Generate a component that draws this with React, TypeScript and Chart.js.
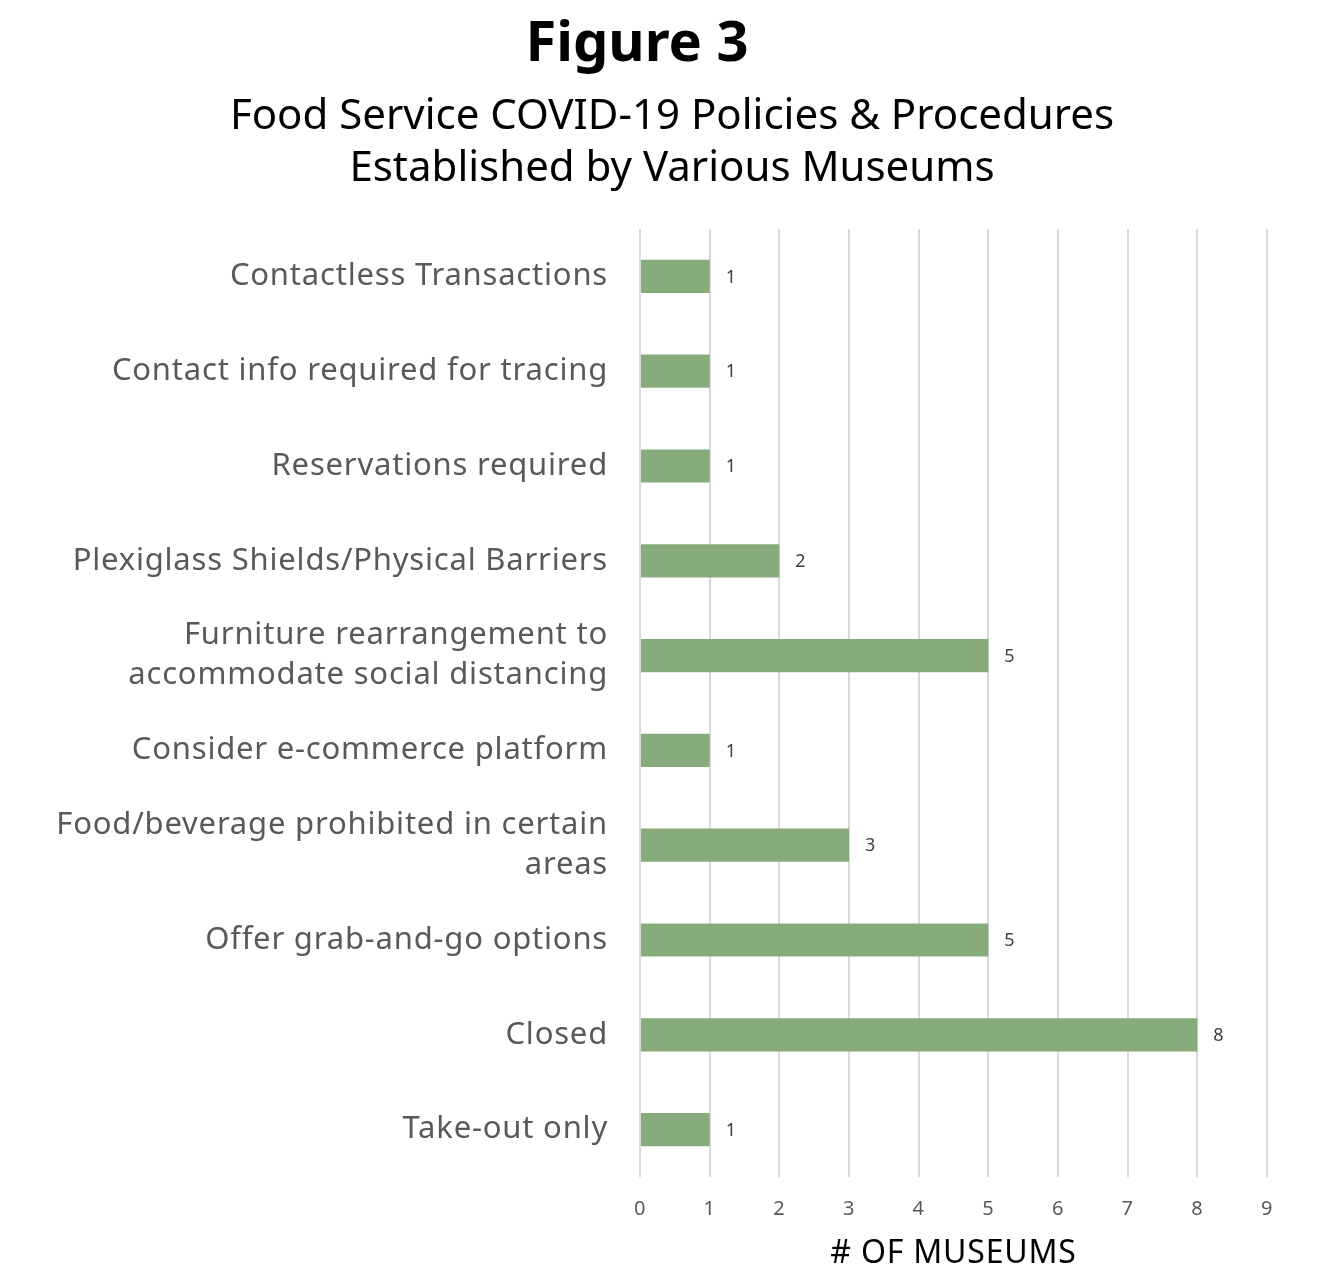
import React, { useEffect, useRef } from "react";
import { Chart, registerables } from "chart.js";

Chart.register(...registerables);

const categories: (string | string[])[] = [
  "Contactless Transactions",
  "Contact info required for tracing",
  "Reservations required",
  "Plexiglass Shields/Physical Barriers",
  ["Furniture rearrangement to", "accommodate social distancing"],
  "Consider e-commerce platform",
  ["Food/beverage prohibited in certain", "areas"],
  "Offer grab-and-go options",
  "Closed",
  "Take-out only",
];
const museums: number[] = [1, 1, 1, 2, 5, 1, 3, 5, 8, 1];
const xTicks: number[] = [0, 1, 2, 3, 4, 5, 6, 7, 8, 9];

const titleText = "Figure 3";
const subtitleLines: string[] = ["Food Service COVID-19 Policies & Procedures", "Established by Various Museums"];
const xTitle = "# OF MUSEUMS";

const spacing = {
  id: "spacing",
  beforeDraw(chart: any) {
    (chart.ctx as any).letterSpacing = "0.8px";
  },
  afterDraw(chart: any) {
    (chart.ctx as any).letterSpacing = "0px";
  },
};

const headings = {
  id: "headings",
  afterDraw(chart: any) {
    const ctx = chart.ctx;
    ctx.save();
    (ctx as any).letterSpacing = "0px";
    ctx.fillStyle = "#000000";
    ctx.textAlign = "center";
    ctx.textBaseline = "middle";
    ctx.font = "bold 56px 'Noto Sans'";
    ctx.fillText(titleText, 637, 45);
    ctx.font = "42px 'Noto Sans'";
    subtitleLines.forEach((line, i) => {
      ctx.fillText(line, 672, 117 + i * 52);
    });
    ctx.restore();
  },
};

const valueLabels = {
  id: "valueLabels",
  afterDatasetsDraw(chart: any) {
    const ctx = chart.ctx;
    const meta = chart.getDatasetMeta(0);
    ctx.save();
    ctx.font = "18px 'Noto Sans'";
    ctx.fillStyle = "#404040";
    ctx.textAlign = "left";
    ctx.textBaseline = "middle";
    meta.data.forEach((bar: any, i: number) => {
      ctx.fillText(String(museums[i]), bar.x + 16, bar.y + 1);
    });
    ctx.restore();
  },
};

export default function App() {
  const ref = useRef<HTMLCanvasElement>(null);
  useEffect(() => {
    if (!ref.current) return;
    const chart = new Chart(ref.current, {
      type: "bar",
      data: {
        labels: categories,
        datasets: [
          {
            data: museums,
            backgroundColor: "#87ab7a",
            borderWidth: 0,
            categoryPercentage: 1,
            barPercentage: 0.35,
          },
        ],
      },
      options: {
        indexAxis: "y",
        animation: false,
        responsive: false,
        maintainAspectRatio: false,
        layout: { padding: { left: 0, right: 71, top: 229, bottom: 0 } },
        plugins: {
          legend: { display: false },
          tooltip: { enabled: false },
          title: { display: false },
          subtitle: { display: false },
        },
        scales: {
          x: {
            min: 0,
            max: 9,
            afterBuildTicks: (axis: any) => {
              axis.ticks = xTicks.map((v) => ({ value: v }));
            },
            afterFit: (axis: any) => {
              axis.height = 91;
            },
            grid: { color: "#d9d9d9", lineWidth: 2, drawTicks: false },
            border: { display: false },
            ticks: {
              color: "#595959",
              font: { family: "'Noto Sans'", size: 20, lineHeight: 1.2 },
              padding: 20,
            },
            title: {
              display: true,
              text: xTitle,
              color: "#000000",
              font: { family: "'Noto Sans'", size: 32, lineHeight: 1.2 },
              padding: { top: 8, bottom: -5 },
            },
          },
          y: {
            afterFit: (axis: any) => {
              axis.width = 640;
            },
            grid: { display: false, drawTicks: false },
            border: { display: false },
            ticks: {
              color: "#595959",
              font: { family: "'Noto Sans'", size: 31, lineHeight: 1.29 },
              padding: 32,
            },
          },
        },
      },
      plugins: [spacing, valueLabels, headings],
    });
    return () => chart.destroy();
  }, []);
  return (
    <div style={{ position: "fixed", left: 0, top: 0, width: 1338, height: 1268, background: "#fff" }}>
      <canvas ref={ref} width={1338} height={1268} style={{ width: 1338, height: 1268 }} />
    </div>
  );
}
